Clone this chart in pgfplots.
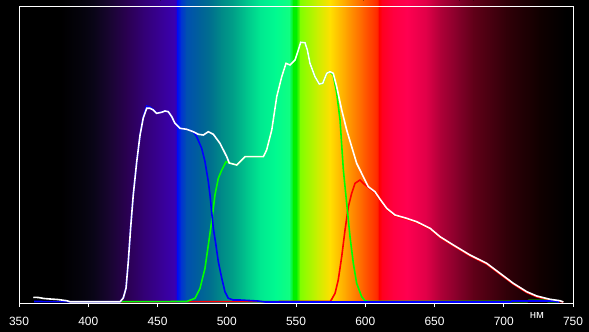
\documentclass[border=0pt]{standalone}
\usepackage{fontspec}
\setmainfont{Liberation Sans}
\usepackage{pgfplots}
\pgfplotsset{compat=1.18}
\usetikzlibrary{backgrounds}
\definecolor{k00}{HTML}{000000}
\definecolor{k01}{HTML}{05030C}
\definecolor{k02}{HTML}{0A0518}
\definecolor{k03}{HTML}{180530}
\definecolor{k04}{HTML}{2A0052}
\definecolor{k05}{HTML}{330075}
\definecolor{k06}{HTML}{380095}
\definecolor{k07}{HTML}{3A00B0}
\definecolor{k08}{HTML}{2800C8}
\definecolor{k09}{HTML}{0010F0}
\definecolor{k10}{HTML}{0035D0}
\definecolor{k11}{HTML}{0050B0}
\definecolor{k12}{HTML}{00609A}
\definecolor{k13}{HTML}{00708F}
\definecolor{k14}{HTML}{008A88}
\definecolor{k15}{HTML}{00A088}
\definecolor{k16}{HTML}{00C48C}
\definecolor{k17}{HTML}{00E890}
\definecolor{k18}{HTML}{00FA90}
\definecolor{k19}{HTML}{10FF80}
\definecolor{k20}{HTML}{00F000}
\definecolor{k21}{HTML}{80FF00}
\definecolor{k22}{HTML}{C8F000}
\definecolor{k23}{HTML}{FFE000}
\definecolor{k24}{HTML}{FFA000}
\definecolor{k25}{HTML}{FF6000}
\definecolor{k26}{HTML}{FF2800}
\definecolor{k27}{HTML}{FF0000}
\definecolor{k28}{HTML}{FF0020}
\definecolor{k29}{HTML}{FF0040}
\definecolor{k30}{HTML}{FF0050}
\definecolor{k31}{HTML}{E00048}
\definecolor{k32}{HTML}{B00038}
\definecolor{k33}{HTML}{800028}
\definecolor{k34}{HTML}{600018}
\definecolor{k35}{HTML}{300008}
\definecolor{k36}{HTML}{100000}
\definecolor{pblue}{HTML}{0000FF}
\definecolor{pgreen}{HTML}{00FF00}
\definecolor{pred}{HTML}{FF0000}
\newcommand{\band}[4]{\fill[left color=#3,right color=#4] (axis cs:#1,0) rectangle (axis cs:#2,303);}
\begin{document}
\begin{tikzpicture}
\begin{axis}[
  scale only axis, width=554bp, height=296bp,
  xmin=350, xmax=750, ymin=0, ymax=296,
  clip=false, axis on top,
  axis line style={white, line width=1bp},
  xtick={350,400,450,500,550,600,650,700,750},
  xticklabels={350,400,450,500,550,600,650,700,750},
  ytick=\empty,
  xtick pos=bottom,
  tick align=outside,
  major tick length=4bp,
  tick style={white, line width=0.8bp},
  xticklabel style={text=white, font=\fontsize{12}{12}\selectfont, yshift=-6.5bp},
]
\coordinate (ll) at (rel axis cs:0,0);
\coordinate (ur) at (rel axis cs:1,1);
\band{350}{380.3}{k00}{k00}
\band{380}{395.3}{k00}{k01}
\band{395}{404.3}{k01}{k02}
\band{404}{415.3}{k02}{k03}
\band{415}{428.3}{k03}{k04}
\band{428}{440.3}{k04}{k05}
\band{440}{452.3}{k05}{k06}
\band{452}{462.3}{k06}{k07}
\band{462}{463.8}{k07}{k08}
\band{463.5}{464.8}{k08}{k09}
\band{464.5}{467.3}{k09}{k10}
\band{467}{471.3}{k10}{k11}
\band{471}{480.3}{k11}{k12}
\band{480}{488.3}{k12}{k13}
\band{488}{496.3}{k13}{k14}
\band{496}{504.8}{k14}{k15}
\band{504.5}{514.3}{k15}{k16}
\band{514}{524.3}{k16}{k17}
\band{524}{535.3}{k17}{k18}
\band{535}{545.3}{k18}{k19}
\band{545}{548.3}{k19}{k20}
\band{548}{550.3}{k20}{k20}
\band{550}{553.3}{k20}{k21}
\band{553}{565.3}{k21}{k22}
\band{565}{574.8}{k22}{k23}
\band{574.5}{586.9}{k23}{k24}
\band{586.6}{598.9}{k24}{k25}
\band{598.6}{608.8}{k25}{k26}
\band{608.5}{610.3}{k26}{k27}
\band{610}{612.3}{k27}{k28}
\band{612}{620.3}{k28}{k29}
\band{620}{630.3}{k29}{k30}
\band{630}{644.3}{k30}{k31}
\band{644}{654.3}{k31}{k32}
\band{654}{668.3}{k32}{k33}
\band{668}{678.3}{k33}{k34}
\band{678}{702.3}{k34}{k35}
\band{702}{726.3}{k35}{k36}
\band{726}{745.3}{k36}{k00}
\band{745}{750}{k00}{k00}
% red
\addplot[pred, line width=1.6bp] coordinates {
(424,1.3) (574.5,1.5) (575.5,3) (578.2,9.7) (580.5,23) (583.0,46.3) (585.4,73)
(587.8,96.3) (590.2,109.7) (592.6,119.7) (596.2,123) (598.6,119.7) (602.2,115.5)
(607.0,110.5) (610.6,103.2) (615.5,93.9) (621.5,87.2) (629.9,83.9) (637.1,80.5)
(646.8,73.9) (654.0,65.5) (663.6,57.2) (675.6,47.2) (687.7,38.9) (697.3,28.9)
(706.9,18.9) (716.6,10.5) (723.8,6.2) (733.4,2.9) (740.6,1.6) (743.0,1)
};
% green
\addplot[pgreen, line width=1.6bp] coordinates {
(424,1.3) (471.1,1.5) (477.1,4.7) (480.7,14.7) (484.3,34.7) (486.7,58) (489.1,81.3)
(491.5,108) (493.9,124.7) (496.4,133) (499.5,141.3) (501.8,140) (507.2,138)
(513.2,146.3) (526.4,146.3) (528.8,153) (532.5,173) (536.1,206.3) (539.7,226.3)
(542.8,239.7) (545.7,238) (549.3,243) (551.7,253) (553.4,260.7) (556.5,260.3)
(558.2,253) (560.1,239.7) (563.7,226.3) (566.8,219) (569.3,219.7) (572.2,229.7)
(574.5,231.3) (576.9,228) (579.4,209.7) (581.8,183) (584.2,133) (586.6,99.7)
(589.0,66.3) (591.4,39.7) (593.8,19.7) (597.4,6.3) (599.8,2.3) (602,1.5)
(717,1.5) (718,2.5) (731,2.5) (732,1.5) (740,1.5)
};
% blue
\addplot[pblue, line width=1.6bp] coordinates {
(361,1.5) (385,1.3) (423,1.3) (425.3,5) (427.3,15) (428.9,41.3) (430.6,75)
(432.5,108) (435.0,141.3) (437.4,168) (439.7,186) (442.2,197) (444.6,196)
(447.0,193.5) (449.4,190) (453.0,191) (455.4,192) (457.8,191.3) (460.3,186.3)
(462.6,179.7) (466.2,174.7) (471.1,173.7) (475.8,171.3) (478.3,166.3) (481.9,154.7)
(484.3,141.3) (486.7,121.3) (487.9,108) (489.1,91.3) (490.3,74.7) (492.2,58)
(493.9,41.3) (496.4,24.7) (498.7,11.3) (501.1,4.7) (504.7,3) (509.6,3) (522.6,2)
(527.6,1) (705,1) (706,2) (735,2) (740,1)
};
% white
\addplot[white, line width=1.6bp] coordinates {
(360.3,5.7) (364,5.5) (368,4.5) (372.4,4) (378,3.5) (384.4,2.3) (386.8,1.3)
(423,1.3) (425.3,5) (427.3,15) (428.9,41.3) (430.6,75) (432.5,108) (435.0,141.3)
(437.4,168) (439.7,185) (442.2,194.7) (444.6,194.7) (447.0,193) (449.4,189.7)
(453.0,190.7) (455.4,192) (457.8,191.3) (460.3,186.3) (462.6,179.7) (466.2,174.7)
(471.1,173.7) (475.8,171.3) (479.5,168.7) (483.1,168) (486.7,171.3) (490.3,168.7)
(495.1,159.7) (500.0,146.3) (501.8,140) (507.2,138) (513.2,146.3) (526.4,146.3)
(528.8,153) (532.5,173) (536.1,206.3) (539.7,226.3) (542.8,239.7) (545.7,238)
(549.3,243) (551.7,253) (553.4,260.7) (556.5,260.3) (558.2,253) (560.1,239.7)
(563.7,226.3) (566.8,219) (569.3,219.7) (572.2,229.7) (574.5,231.3) (576.9,229.7)
(579.4,216.3) (583.0,193) (586.6,173) (590.2,156.3) (593.8,139.7) (596.2,133)
(598.6,126.3) (602.2,116.3) (607.0,111.3) (610.6,104) (615.5,94.7) (621.5,88)
(629.9,84.7) (637.1,81.3) (646.8,74.7) (654.0,66.3) (663.6,58) (675.6,48)
(687.7,39.7) (697.3,29.7) (706.9,19.7) (716.6,11.3) (723.8,7) (733.4,3.7)
(740.6,2.3) (743.0,1)
};
\node[text=white, font=\fontsize{11.5}{12}\selectfont] at (axis cs:724,-12) {нм};
\end{axis}
\begin{scope}[on background layer]
\fill[black] ([shift={(-19bp,-29bp)}]ll) rectangle ([shift={(16bp,7bp)}]ur);
\end{scope}
\end{tikzpicture}
\end{document}
